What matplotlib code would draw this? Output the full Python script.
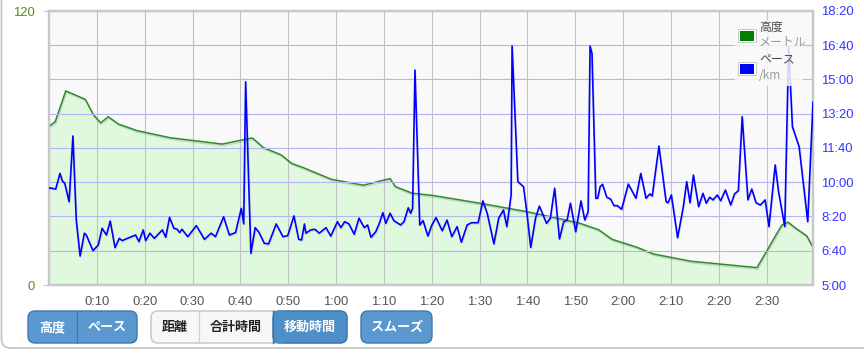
import matplotlib
matplotlib.use("Agg")
import matplotlib.pyplot as plt
import matplotlib.patheffects as pe
from matplotlib.patches import FancyBboxPatch, Rectangle
from matplotlib.ticker import FixedLocator, FixedFormatter

# ---------------- data ----------------
elev_time = [0, 1.3, 3.5, 7.6, 9.3, 10.8, 12.4, 14.5, 18.4, 25.3, 36.2, 41.0, 42.5,
             44.8, 48.5, 50.7, 53.5, 59.0, 65.7, 71.3, 72.4, 75.9, 80.3, 90.1, 99.9,
             107.0, 111.0, 114.9, 117.7, 122.8, 126.5, 134.2, 148.0, 153.2, 154.5,
             156.0, 158.4, 159.7]
elev_m = [69.5, 71.5, 85, 81.3, 74.5, 71, 73.7, 70.5, 67.6, 64.5, 61.7, 63.8, 64.4,
          60.2, 57.0, 53.3, 51.1, 46.3, 43.7, 46.6, 43.1, 40.2, 39.2, 35.8, 32.1,
          28.9, 27, 24.2, 20.0, 16.6, 13.5, 10.4, 7.6, 26.3, 27.5,
          25.0, 21.5, 16.5]

pace_time = [0.0, 1.4, 2.3, 2.8, 3.3, 4.2, 5.0, 5.7, 6.5, 7.4, 7.8, 9.2, 10.3, 11.1,
             12.0, 12.8, 13.8, 14.7, 15.3, 16.9, 18.1, 18.8, 19.7, 20.2, 21.1, 22.0,
             23.7, 24.4, 25.2, 26.1, 26.8, 27.3, 27.8, 29.0, 30.8, 32.5, 33.9, 34.8,
             36.5, 37.7, 39.0, 40.2, 40.7, 41.1, 42.2, 43.1, 43.9, 45.0, 45.9, 47.5,
             48.9, 49.9, 51.2, 52.2, 52.8, 53.4, 53.7, 54.7, 55.6, 56.5, 57.9, 58.9,
             60.3, 61.0, 61.8, 62.7, 63.8, 64.8, 65.9, 66.6, 67.3, 68.3, 69.0, 69.8,
             70.4, 71.3, 72.1, 73.5, 74.2, 75.1, 75.6, 76.0, 76.5, 77.5, 78.2, 79.2,
             80.0, 80.9, 82.2, 83.2, 84.2, 85.3, 86.2, 87.4, 88.3, 89.7, 90.7, 91.6,
             93.0, 94.0, 95.0, 95.7, 96.6, 96.8, 98.0, 99.2, 99.9, 100.7, 101.7, 102.5,
             104.0, 104.8, 105.7, 106.7, 107.6, 108.3, 109.0, 110.1, 111.2, 112.0,
             112.7, 113.1, 113.5, 114.3, 114.7, 115.2, 115.7, 116.6, 117.4, 118.1,
             118.8, 119.7, 121.1, 122.7, 123.7, 124.8, 125.6, 126.1, 127.5, 129.0,
             129.4, 130.1, 131.4, 132.6, 133.3, 134.0, 134.7, 135.8, 136.7, 137.4,
             138.1, 138.8, 139.7, 140.4, 141.4, 142.5, 143.3, 144.1, 144.9, 146.1,
             146.9, 147.8, 148.7, 149.7, 150.5, 151.8, 152.5, 153.8, 154.6, 155.4,
             156.8, 158.6, 159.7]
pace_min = [9.73, 9.67, 10.43, 10.06, 9.95, 9.05, 12.25, 8.16, 6.41, 7.52, 7.43, 6.67,
            6.95, 7.76, 7.43, 8.11, 6.82, 7.27, 7.16, 7.32, 7.43, 7.11, 7.68, 7.16,
            7.52, 7.27, 7.68, 7.32, 8.29, 7.76, 7.71, 7.55, 7.71, 7.35, 7.89, 7.22,
            7.52, 7.35, 8.32, 7.43, 7.55, 8.73, 7.97, 14.89, 6.54, 7.79, 7.56, 7.03,
            7.0, 7.97, 7.35, 7.40, 8.36, 7.22, 7.19, 7.97, 7.52, 7.68, 7.71, 7.52,
            7.79, 7.38, 8.08, 7.79, 8.08, 7.97, 7.47, 8.25, 7.79, 7.92, 7.32, 7.59,
            7.97, 8.52, 8.0, 8.49, 8.13, 7.92, 8.08, 8.76, 8.49, 8.73, 15.46, 7.92,
            8.13, 7.38, 7.9, 8.28, 7.64, 8.16, 7.35, 7.84, 7.08, 7.92, 8.03, 8.03,
            9.09, 8.49, 7.0, 8.25, 8.65, 7.84, 9.38, 16.63, 10.03, 9.78, 8.49, 6.83,
            8.25, 8.84, 8.0, 8.25, 9.71, 7.24, 8.08, 8.16, 8.98, 7.59, 9.09, 8.16,
            8.57, 16.63, 16.27, 9.22, 9.22, 9.78, 9.90, 9.27, 9.18, 8.86, 8.86, 8.68,
            9.91, 9.22, 10.43, 9.22, 9.43, 9.33, 11.76, 9.05, 9.0, 9.38, 7.30, 8.81,
            10.03, 9.0, 10.35, 8.81, 9.46, 8.98, 9.27, 9.14, 9.38, 9.10, 9.62, 8.89,
            9.43, 9.59, 13.19, 9.14, 9.67, 9.0, 8.89, 9.14, 7.84, 10.84, 9.54, 7.84,
            16.6, 12.7, 11.73, 8.08, 13.9]

x_ticks = [10, 20, 30, 40, 50, 60, 70, 80, 90, 100, 110, 120, 130, 140, 150]
x_labels = ["0:10", "0:20", "0:30", "0:40", "0:50", "1:00", "1:10", "1:20", "1:30",
            "1:40", "1:50", "2:00", "2:10", "2:20", "2:30"]
pace_labels = ["5:00", "6:40", "8:20", "10:00", "11:40", "13:20", "15:00", "16:40", "18:20"]
elev_ticks = [0, 120]

legend_titles = ["高度", "ペース"]
legend_units = ["メートル", "/km"]
buttons_a = ["高度", "ペース"]
buttons_b = ["距離", "合計時間", "移動時間"]
button_c = "スムーズ"

pace_ticks = [int(s.split(":")[0]) + int(s.split(":")[1]) / 60 for s in pace_labels]

# ---------------- figure ----------------
W, H = 864, 354
fig = plt.figure(figsize=(W / 100, H / 100), dpi=100)
fig.patch.set_facecolor("white")

L, R, T, B = 49, 813, 11, 285
ax = fig.add_axes([L / W, 1 - B / H, (R - L) / W, (B - T) / H])
ax2 = ax.twinx()

ax.set_facecolor("#f9f9f9")
ax.set_xlim(0, 159.7)
ax.set_ylim(0, 120)
ax2.set_ylim(pace_ticks[0], pace_ticks[-1])

# elevation
ax.fill_between(elev_time, elev_m, 0, color="#e0f8de", zorder=1, linewidth=0)
ax.plot(elev_time, elev_m, color="#2f8a2a", lw=1.1, zorder=3,
        path_effects=[pe.SimpleLineShadow(offset=(0.6, -1.2), shadow_color="k", alpha=0.12),
                      pe.Normal()])

# grids
ax.set_axisbelow(False)
ax.xaxis.set_major_locator(FixedLocator(x_ticks))
ax.xaxis.set_major_formatter(FixedFormatter(x_labels))
ax.grid(axis="x", color="#c2c2c2", lw=0.8, zorder=2.5)
ax.grid(axis="y", visible=False)
ax2.yaxis.set_major_locator(FixedLocator(pace_ticks))
ax2.yaxis.set_major_formatter(FixedFormatter(pace_labels))
ax2.grid(axis="y", color="#b4b4f4", lw=0.8, zorder=0)
ax2.set_axisbelow(True)

# pace
ax2.plot(pace_time, pace_min, color="#0000ff", lw=1.2, zorder=3,
         path_effects=[pe.SimpleLineShadow(offset=(0.6, -1.0), shadow_color="k", alpha=0.08),
                       pe.Normal()])

# ticks
num_font = "Liberation Sans"
ax.set_yticks(elev_ticks)
ax.set_yticklabels([str(v) for v in elev_ticks], fontsize=9.4, family=num_font, color="#5a8a10")
ax.tick_params(axis="y", length=4, color="#cccccc", pad=6)
ax.tick_params(axis="x", length=0, pad=8, labelsize=9.4, labelcolor="#545454")
for lab in ax.get_xticklabels():
    lab.set_family(num_font)
ax2.tick_params(axis="y", length=0, pad=6, labelsize=9.4, labelcolor="#3535ff")
for lab in ax2.get_yticklabels():
    lab.set_family(num_font)

for a in (ax, ax2):
    for s in a.spines.values():
        s.set_color("#c8c8c8")
        s.set_linewidth(1.6)

# ---------------- overlay (legend, buttons, container) ----------------
ov = fig.add_axes([0, 0, 1, 1], zorder=10)
ov.set_xlim(0, W)
ov.set_ylim(H, 0)
ov.axis("off")
ov.patch.set_visible(False)

# container border
ov.add_patch(FancyBboxPatch((1.5, -30), 900, 378, boxstyle="round,pad=0,rounding_size=9",
                            facecolor="none", edgecolor="#c6c6c6", lw=1.3))

# legend
ov.add_patch(Rectangle((735, 20), 68, 66, facecolor="#f9f9f9", alpha=0.85, edgecolor="none"))
jp = ["Noto Sans CJK JP", "DejaVu Sans"]
sw_colors = ["#008000", "#0000ff"]
sw_y = [29, 62]
for i in range(2):
    ov.add_patch(Rectangle((738, sw_y[i]), 18, 13, facecolor="white", edgecolor="#cccccc", lw=0.8))
    ov.add_patch(Rectangle((740, sw_y[i] + 2), 14, 9.5, facecolor=sw_colors[i], edgecolor="none"))
    ov.text(759, sw_y[i] - 2, legend_titles[i], family=jp, fontsize=8.6, color="#4a4a4a",
            va="center", ha="left")
    ov.text(759, sw_y[i] + 13.5, legend_units[i], family=jp, fontsize=8.6, color="#9a9a9a",
            va="center", ha="left")

# buttons
blue_face = "#5a98cf"
blue_edge = "#3f78ae"
by, bh = 311, 32

def rbox(x0, x1, face, edge, lw=1.0):
    ov.add_patch(FancyBboxPatch((x0, by), x1 - x0, bh,
                                boxstyle="round,pad=0,rounding_size=7",
                                facecolor=face, edgecolor=edge, lw=lw))

# group A
rbox(28, 137, blue_face, blue_edge)
ov.plot([77, 77], [by, by + bh], color=blue_edge, lw=0.9)
ov.text(52.5, by + bh / 2, buttons_a[0], family=jp, fontsize=9.4, weight="bold",
        color="white", ha="center", va="center")
ov.text(107, by + bh / 2, buttons_a[1], family=jp, fontsize=9.4, weight="bold",
        color="white", ha="center", va="center")

# group B
rbox(151, 347, "#f7f7f7", "#c4c4c4")
ov.add_patch(FancyBboxPatch((273, by), 74, bh, boxstyle="round,pad=0,rounding_size=7",
                            facecolor="#4f8fc8", edgecolor="#3a72a8", lw=1.0))
ov.add_patch(Rectangle((273, by), 12, bh, facecolor="#4f8fc8", edgecolor="none"))
ov.plot([273, 273], [by, by + bh], color="#3a72a8", lw=1.0)
ov.plot([199, 199], [by, by + bh], color="#d0d0d0", lw=0.9)
ov.text(175, by + bh / 2, buttons_b[0], family=jp, fontsize=9.4, weight="bold",
        color="#222222", ha="center", va="center")
ov.text(236, by + bh / 2, buttons_b[1], family=jp, fontsize=9.4, weight="bold",
        color="#222222", ha="center", va="center")
ov.text(310, by + bh / 2, buttons_b[2], family=jp, fontsize=9.4, weight="bold",
        color="white", ha="center", va="center")

# smooth button
rbox(361, 432, blue_face, blue_edge)
ov.text(396.5, by + bh / 2, button_c, family=jp, fontsize=9.4, weight="bold",
        color="white", ha="center", va="center")

fig.savefig("out.png", dpi=100)
